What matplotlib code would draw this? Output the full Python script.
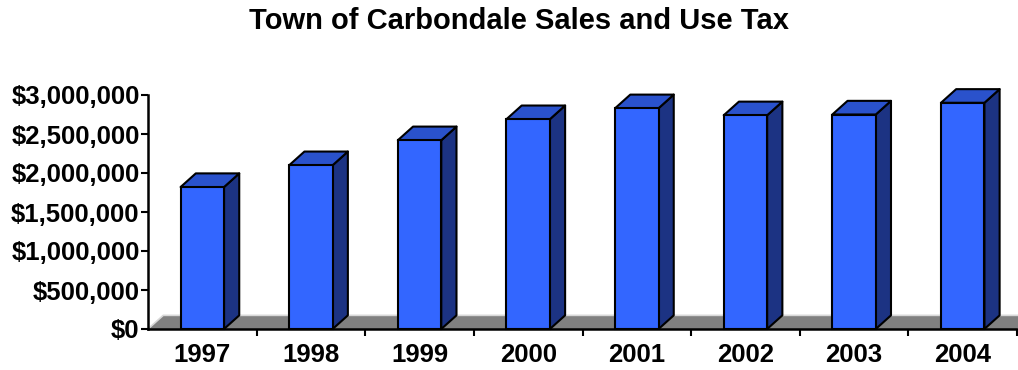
import numpy as np
import matplotlib
matplotlib.use("Agg")
import matplotlib.pyplot as plt
from matplotlib.patches import Polygon
from matplotlib.ticker import FuncFormatter

years = ["1997", "1998", "1999", "2000", "2001", "2002", "2003", "2004"]
sales_tax = [1820000, 2100000, 2420000, 2690000, 2830000, 2740000, 2750000, 2900000]
yticks = [0, 500000, 1000000, 1500000, 2000000, 2500000, 3000000]

plt.rcParams['font.family'] = ['Liberation Sans', 'DejaVu Sans']
plt.rcParams['font.weight'] = 'bold'

fig = plt.figure(figsize=(10.18, 3.70), dpi=100)
ax = fig.add_axes([148 / 1018, 41 / 370, 869 / 1018, 234 / 370])

front_c = '#3366ff'
top_c = '#2a52cc'
side_c = '#1c3383'
width = 0.4
dx = 0.14      # depth offset in category units
dy = 175000    # depth offset in value units

x = np.arange(len(years))

# floor
floor = Polygon([(-0.5, 0), (7.5, 0), (7.5 + dx, dy), (-0.5 + dx, dy)],
                closed=True, facecolor='#808080', edgecolor='none', clip_on=False, zorder=1)
ax.add_patch(floor)
ax.plot([-0.5, -0.5 + dx, 7.5 + dx], [0, dy, dy], color='#d8d8d8', lw=1.2,
        clip_on=False, zorder=1.5)

bars = ax.bar(x, sales_tax, width, color=front_c, edgecolor='black', linewidth=1.5,
              zorder=3, clip_on=False)
for b in bars:
    x0 = b.get_x()
    x1 = x0 + b.get_width()
    h = b.get_height()
    side = Polygon([(x1, 0), (x1 + dx, dy), (x1 + dx, h + dy), (x1, h)], closed=True,
                   facecolor=side_c, edgecolor='black', linewidth=1.5, zorder=2.5,
                   clip_on=False, joinstyle='round')
    top = Polygon([(x0, h), (x0 + dx, h + dy), (x1 + dx, h + dy), (x1, h)], closed=True,
                  facecolor=top_c, edgecolor='black', linewidth=1.5, zorder=2.5,
                  clip_on=False, joinstyle='round')
    ax.add_patch(side)
    ax.add_patch(top)

ax.set_xlim(-0.5, 7.5)
ax.set_ylim(0, 3000000)
ax.set_yticks(yticks)
ax.yaxis.set_major_formatter(FuncFormatter(lambda v, p: '${:,.0f}'.format(v)))
ax.set_xticks(x + 0.5)
ax.set_xticklabels([])
ax.set_xticks(x, minor=True)
ax.set_xticklabels(years, minor=True)
ax.tick_params(axis='x', which='minor', length=0, pad=10, labelsize=18.5)
ax.tick_params(axis='x', which='major', length=5, width=1.5, direction='out')
ax.tick_params(axis='y', length=5, width=1.5, direction='out', pad=1, labelsize=18.5)

for s in ['top', 'right']:
    ax.spines[s].set_visible(False)
ax.spines['left'].set_linewidth(1.8)
ax.spines['bottom'].set_linewidth(1.8)
ax.spines['left'].set_zorder(4)
ax.spines['bottom'].set_zorder(4)
ax.patch.set_visible(False)

fig.text(0.51, 0.943, 'Town of Carbondale Sales and Use Tax', ha='center', va='center',
         fontsize=21, fontweight='bold')

fig.savefig('out.png', dpi=100)
